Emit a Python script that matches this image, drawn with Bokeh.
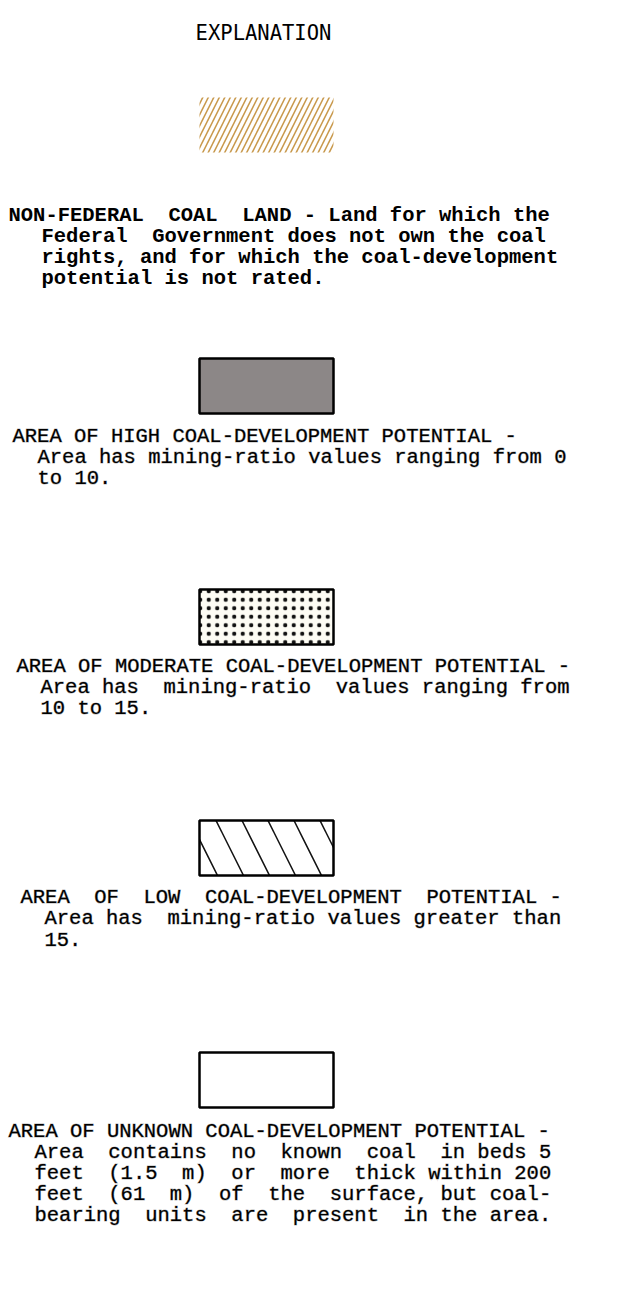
from bokeh.plotting import figure
from bokeh.models import ColumnDataSource, Range1d
from bokeh.core.properties import value
from bokeh.embed import file_html
from bokeh.resources import INLINE

# ---- content (extra spaces reproduce the typewriter justification) ----
title_text = "EXPLANATION"
categories = ["NON-FEDERAL COAL LAND", "HIGH", "MODERATE", "LOW", "UNKNOWN"]
descriptions = [
    ["NON-FEDERAL  COAL  LAND - Land for which the",
     "Federal  Government does not own the coal",
     "rights, and for which the coal-development",
     "potential is not rated."],
    ["AREA OF HIGH COAL-DEVELOPMENT POTENTIAL -",
     "Area has mining-ratio values ranging from 0",
     "to 10."],
    ["AREA OF MODERATE COAL-DEVELOPMENT POTENTIAL -",
     "Area has  mining-ratio  values ranging from",
     "10 to 15."],
    ["AREA  OF  LOW  COAL-DEVELOPMENT  POTENTIAL -",
     "Area has  mining-ratio values greater than",
     "15."],
    ["AREA OF UNKNOWN COAL-DEVELOPMENT POTENTIAL -",
     "Area  contains  no  known  coal  in beds 5",
     "feet  (1.5  m)  or  more  thick within 200",
     "feet  (61  m)  of  the  surface, but coal-",
     "bearing  units  are  present  in the area."],
]

# ---- swatch styles ----
swatch_fill = ["#ffffff", "#8c8787", "#fdfcf4", "#ffffff", "#ffffff"]
swatch_hatch = ["/", " ", "dot", "\\", " "]
swatch_hatch_color = ["#c99a4e", "#000000", "#111111", "#111111", "#000000"]
swatch_hatch_scale = [11.0, 10.0, 8.5, 52.0, 10.0]
swatch_hatch_weight = [1.6, 1.0, 2.3, 1.5, 1.0]
swatch_border_alpha = [0.0, 1.0, 1.0, 1.0, 1.0]
text_weight = ["bold", "normal", "normal", "normal", "normal"]
text_outline = ["rgba(0,0,0,0)", "rgba(0,0,0,0.35)", "rgba(0,0,0,0.35)",
                "rgba(0,0,0,0.35)", "rgba(0,0,0,0.35)"]

# ---- layout (screen pixels) ----
W, H = 622, 1281
FONT = "Liberation Mono"
TITLE_FONT = "DejaVu Sans Mono"
BODY_SIZE = 20.5
TITLE_SIZE = 20.5
title_x, title_y = 263, 32
sw_left, sw_w, sw_h = 199, 134, 55
swatch_top = [97, 358, 589, 820, 1052]
first_line = [215, 436, 666, 897, 1131]
line_step = 21
text_left = [8, 12, 16, 20, 8]
indent = [33, 25, 24, 24, 26]


def keep_spaces(s):
    # SVG collapses runs of spaces; keep one normal space and pad with no-break spaces
    out, prev_space = "", False
    for ch in s:
        if ch == " " and prev_space:
            out += "\u00a0"
        else:
            out += ch
        prev_space = ch == " " or ch == "\u00a0"
    return out


p = figure(width=W, height=H, output_backend="svg", toolbar_location=None,
           x_range=Range1d(0, W), y_range=Range1d(H, 0),
           min_border=0, min_border_left=0, min_border_right=0,
           min_border_top=0, min_border_bottom=0,
           background_fill_color="white", border_fill_color="white")
p.axis.visible = False
p.grid.visible = False
p.outline_line_color = None

tx, ty, tt, tw, to = [], [], [], [], []
for i, lines in enumerate(descriptions):
    for j, line in enumerate(lines):
        tx.append(text_left[i] + (indent[i] if j > 0 else 0))
        ty.append(first_line[i] + j * line_step)
        tt.append(keep_spaces(line))
        tw.append(text_weight[i])
        to.append(text_outline[i])

n = len(categories)
src = ColumnDataSource(dict(
    left=[sw_left] * n, right=[sw_left + sw_w] * n,
    top=swatch_top, bottom=[t + sw_h for t in swatch_top], cat=categories,
    fill=swatch_fill, hatch=swatch_hatch, hcolor=swatch_hatch_color,
    hscale=swatch_hatch_scale, hweight=swatch_hatch_weight, balpha=swatch_border_alpha,
))
p.quad(left="left", right="right", top="top", bottom="bottom", source=src,
       fill_color="fill", hatch_pattern="hatch", hatch_color="hcolor",
       hatch_scale="hscale", hatch_weight="hweight",
       line_color="black", line_width=2.5, line_alpha="balpha")

p.text(x=[title_x], y=[title_y], text=[title_text], text_font=value(TITLE_FONT),
       text_font_size=f"{TITLE_SIZE}px", text_align="center", text_baseline="middle",
       text_color="#000000")

tsrc = ColumnDataSource(dict(x=tx, y=ty, text=tt, weight=tw, outline=to))
p.text(x="x", y="y", text="text", source=tsrc, text_font=value(FONT),
       text_font_style="weight", text_outline_color="outline",
       text_font_size=f"{BODY_SIZE}px", text_align="left", text_baseline="middle",
       text_color="#000000")

open("out.html", "w").write(file_html(p, INLINE))
